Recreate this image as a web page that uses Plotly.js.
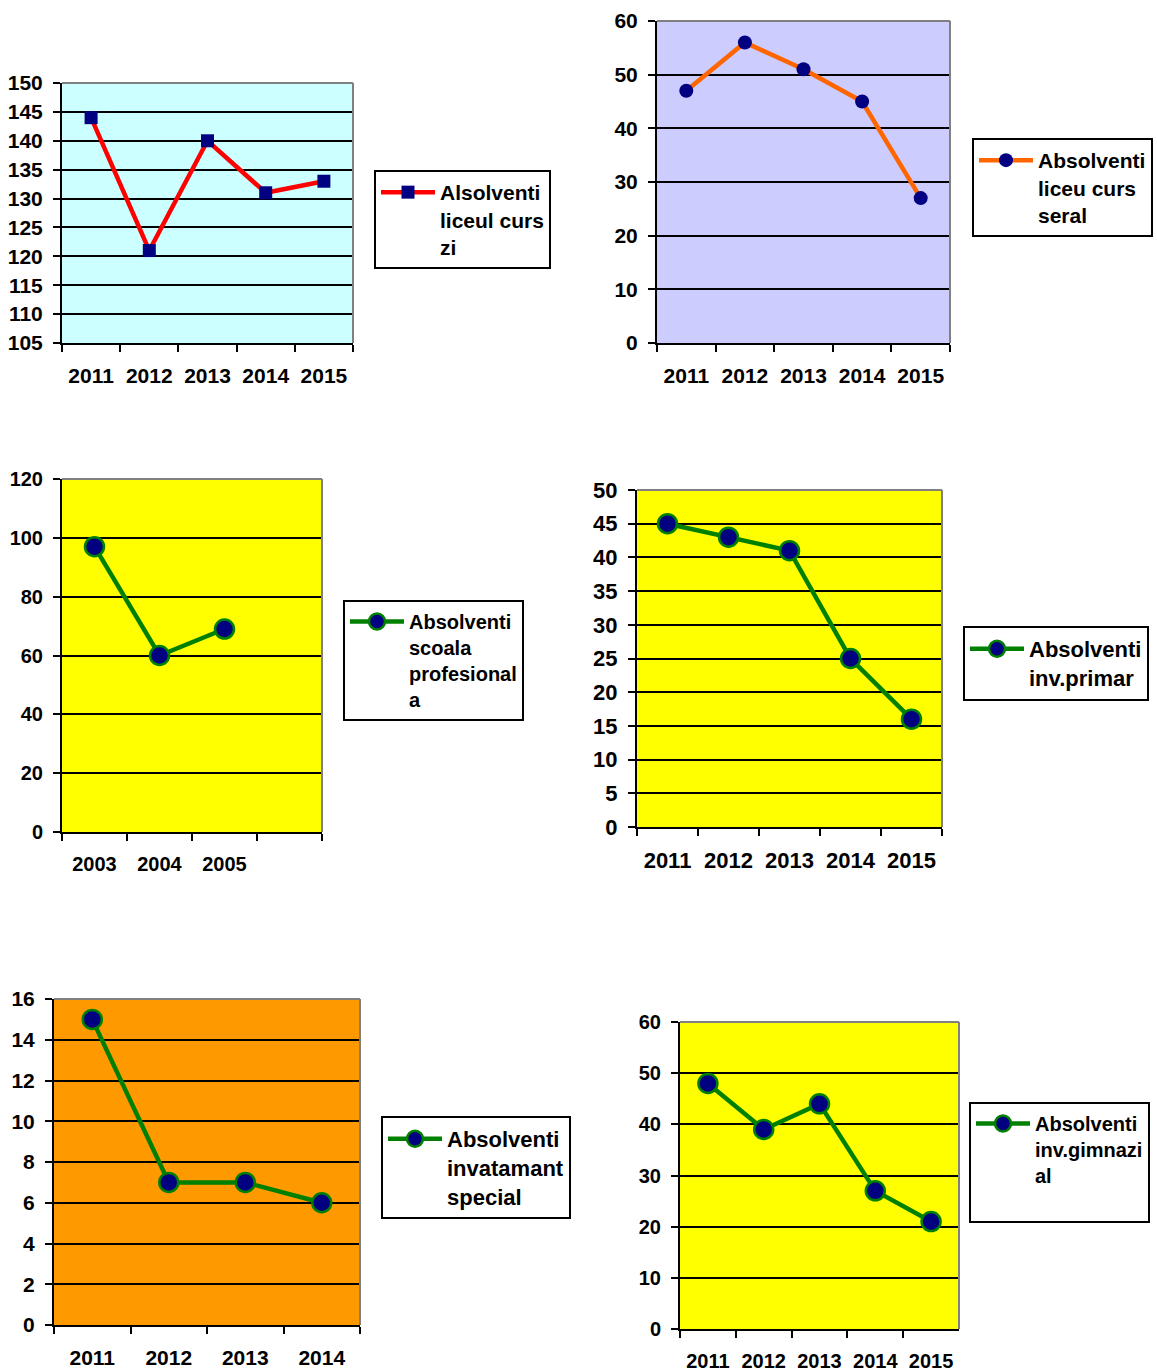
<!DOCTYPE html>
<html>
<head>
<meta charset="utf-8">
<script src="https://cdn.plot.ly/plotly-3.0.1.min.js"></script>
<style>
html,body{margin:0;padding:0;background:#fff;}
#chart{width:1157px;height:1371px;}
</style>
</head>
<body>
<div id="chart"></div>
<script>
// ---- data ----
const years5 = ['2011', '2012', '2013', '2014', '2015'];
const years4 = ['2011', '2012', '2013', '2014'];
const yearsProf = ['2003', '2004', '2005'];
const yearsProfSlots = ['2003', '2004', '2005', ' '];

const liceuZi = [144, 121, 140, 131, 133];
const liceuSeral = [47, 56, 51, 45, 27];
const scoalaProf = [97, 60, 69];
const invPrimar = [45, 43, 41, 25, 16];
const invSpecial = [15, 7, 7, 6];
const invGimnazial = [48, 39, 44, 27, 21];

const names = [
  'Alsolventi<br>liceul curs<br>zi',
  'Absolventi<br>liceu curs<br>seral',
  'Absolventi<br>scoala<br>profesional<br>a',
  'Absolventi<br>inv.primar',
  'Absolventi<br>invatamant<br>special',
  'Absolventi<br>inv.gimnazi<br>al<br> '
];

// ---- geometry (pixels) ----
const W = 1157, H = 1371;
const FONT = 'Liberation Sans, Arial, sans-serif';
const panels = [
  {l: 62, r: 353, t: 83, b: 343, y: [105, 150], dtick: 5, bg: '#CCFFFF', cats: years5, leg: [374, 170], tf: 21, lf: 21},
  {l: 657, r: 950, t: 21, b: 343, y: [0, 60], dtick: 10, bg: '#CCCCFF', cats: years5, leg: [972, 138], tf: 21, lf: 21},
  {l: 62, r: 322, t: 479, b: 832, y: [0, 120], dtick: 20, bg: '#FFFF00', cats: yearsProfSlots, leg: [343, 600], tf: 20, lf: 20},
  {l: 637, r: 942, t: 490, b: 827, y: [0, 50], dtick: 5, bg: '#FFFF00', cats: years5, leg: [963, 626], tf: 22, lf: 22},
  {l: 54, r: 360, t: 999, b: 1325, y: [0, 16], dtick: 2, bg: '#FF9900', cats: years4, leg: [381, 1116], tf: 21, lf: 22},
  {l: 680, r: 959, t: 1022, b: 1329, y: [0, 60], dtick: 10, bg: '#FFFF00', cats: years5, leg: [969, 1102], tf: 20, lf: 20}
];

const series = [
  {x: years5, y: liceuZi, line: '#FF0000', sym: 'square', size: 13, outline: null},
  {x: years5, y: liceuSeral, line: '#FF6600', sym: 'circle', size: 14, outline: null},
  {x: yearsProf, y: scoalaProf, line: '#008000', sym: 'circle', size: 19, outline: '#008000'},
  {x: years5, y: invPrimar, line: '#008000', sym: 'circle', size: 19, outline: '#008000'},
  {x: years4, y: invSpecial, line: '#008000', sym: 'circle', size: 19, outline: '#008000'},
  {x: years5, y: invGimnazial, line: '#008000', sym: 'circle', size: 19, outline: '#008000'}
];

const traces = [];
const layout = {
  width: W, height: H,
  margin: {l: 0, r: 0, t: 0, b: 0},
  paper_bgcolor: '#ffffff',
  plot_bgcolor: '#ffffff',
  showlegend: true,
  font: {family: FONT, size: 20, color: '#000'},
  shapes: []
};

panels.forEach((p, i) => {
  const n = i + 1;
  const xa = n === 1 ? 'xaxis' : 'xaxis' + n;
  const ya = n === 1 ? 'yaxis' : 'yaxis' + n;
  const xr = n === 1 ? 'x' : 'x' + n;
  const yr = n === 1 ? 'y' : 'y' + n;
  const lg = n === 1 ? 'legend' : 'legend' + n;
  const s = series[i];

  const marker = {symbol: s.sym, size: s.size, color: '#000080'};
  if (s.outline) marker.line = {color: s.outline, width: 2.5};
  traces.push({
    type: 'scatter', mode: 'lines+markers',
    x: s.x, y: s.y, xaxis: xr, yaxis: yr, legend: lg,
    name: names[i],
    line: {color: s.line, width: 4.5},
    marker: marker,
    hoverinfo: 'x+y'
  });

  layout[xa] = {
    domain: [p.l / W, p.r / W],
    anchor: yr,
    type: 'category',
    categoryorder: 'array',
    categoryarray: p.cats,
    range: [-0.5, p.cats.length - 0.5],
    tickson: 'boundaries',
    ticks: 'outside', ticklen: 7, tickwidth: 2, tickcolor: '#000',
    showline: true, linecolor: '#000', linewidth: 2,
    showgrid: false, zeroline: false,
    tickfont: {family: FONT, size: p.tf, color: '#000', weight: 'bold'},
    ticklabelstandoff: 13,
    fixedrange: true
  };
  layout[ya] = {
    domain: [1 - p.b / H, 1 - p.t / H],
    anchor: xr,
    range: p.y,
    dtick: p.dtick, tick0: 0,
    ticks: 'outside', ticklen: 7, tickwidth: 2, tickcolor: '#000',
    showline: true, linecolor: '#000', linewidth: 2,
    showgrid: true, gridcolor: '#000', gridwidth: 2,
    zeroline: false,
    tickfont: {family: FONT, size: p.tf, color: '#000', weight: 'bold'},
    ticklabelstandoff: 6,
    fixedrange: true
  };
  // panel background
  layout.shapes.push({
    type: 'rect', xref: xr + ' domain', yref: yr + ' domain',
    x0: 0, x1: 1, y0: 0, y1: 1, fillcolor: p.bg, line: {width: 0}, layer: 'below'
  });
  // grey top/right border
  layout.shapes.push({
    type: 'line', xref: xr + ' domain', yref: yr + ' domain',
    x0: 0, x1: 1, y0: 1, y1: 1, line: {color: '#808080', width: 2}, layer: 'above'
  });
  layout.shapes.push({
    type: 'line', xref: xr + ' domain', yref: yr + ' domain',
    x0: 1, x1: 1, y0: 0, y1: 1, line: {color: '#808080', width: 2}, layer: 'above'
  });

  layout[lg] = {
    x: p.leg[0] / W, y: 1 - p.leg[1] / H,
    xanchor: 'left', yanchor: 'top',
    bgcolor: '#ffffff', bordercolor: '#000', borderwidth: 2,
    font: {family: FONT, size: p.lf, color: '#000', weight: 'bold'},
    valign: 'top',
    itemwidth: 54,
    tracegroupgap: 0
  };
});

Plotly.newPlot('chart', traces, layout, {displayModeBar: false, staticPlot: true});
</script>
</body>
</html>
